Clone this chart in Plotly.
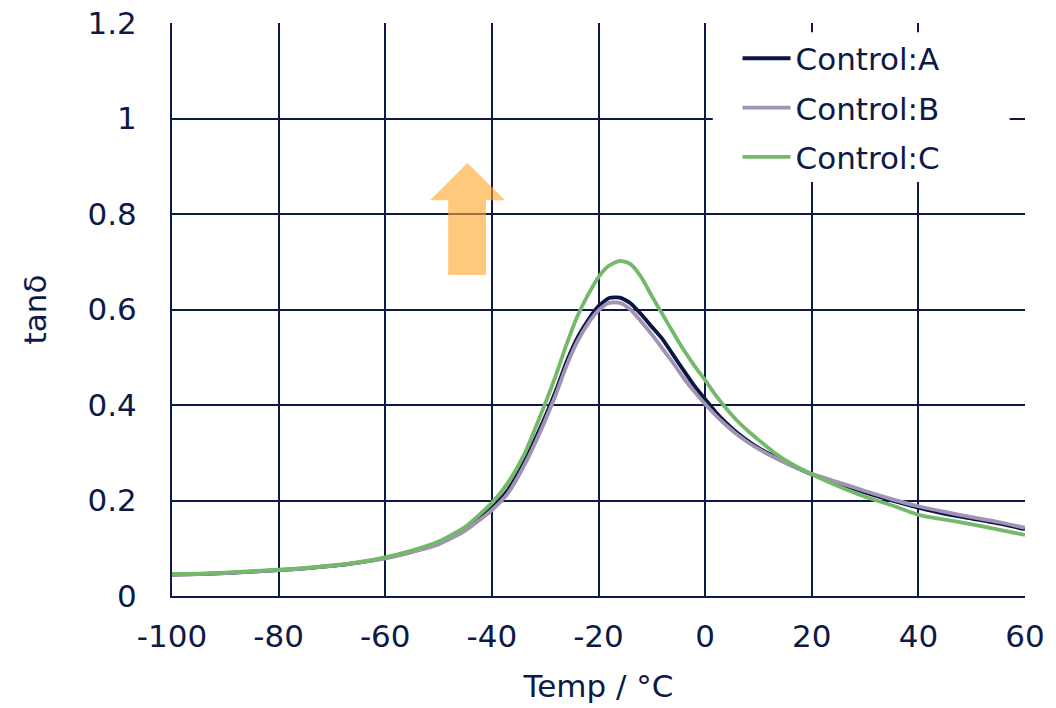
import plotly.graph_objects as go

temp = [-100, -95, -90, -85, -80, -75, -70, -65, -60, -55, -50, -45, -40, -37, -34, -31,
        -28, -26, -24, -22, -20, -18, -16, -14, -12, -10, -8, -6, -4, -2, 0, 2, 4, 6, 8,
        10, 13, 16, 20, 25, 30, 35, 40, 45, 50, 55, 60]

control_a = [0.045, 0.046, 0.048, 0.051, 0.054, 0.058, 0.063, 0.070, 0.080, 0.093, 0.110,
             0.140, 0.185, 0.222, 0.280, 0.350, 0.430, 0.490, 0.540, 0.577, 0.607, 0.624,
             0.625, 0.613, 0.590, 0.564, 0.538, 0.505, 0.472, 0.440, 0.412, 0.385, 0.362,
             0.342, 0.325, 0.310, 0.292, 0.275, 0.255, 0.235, 0.217, 0.200, 0.185, 0.172,
             0.162, 0.152, 0.140]

control_b = [0.045, 0.046, 0.048, 0.051, 0.054, 0.058, 0.063, 0.070, 0.079, 0.092, 0.108,
             0.137, 0.180, 0.215, 0.272, 0.342, 0.422, 0.482, 0.532, 0.570, 0.598, 0.614,
             0.614, 0.600, 0.575, 0.548, 0.518, 0.488, 0.456, 0.428, 0.402, 0.378, 0.357,
             0.338, 0.322, 0.308, 0.290, 0.274, 0.256, 0.238, 0.220, 0.203, 0.188, 0.176,
             0.165, 0.155, 0.143]

control_c = [0.046, 0.047, 0.049, 0.052, 0.055, 0.059, 0.064, 0.071, 0.081, 0.095, 0.114,
             0.145, 0.195, 0.237, 0.295, 0.375, 0.462, 0.527, 0.585, 0.630, 0.668, 0.692,
             0.702, 0.695, 0.668, 0.628, 0.590, 0.552, 0.515, 0.482, 0.452, 0.420, 0.392,
             0.367, 0.346, 0.327, 0.300, 0.278, 0.255, 0.230, 0.208, 0.190, 0.170, 0.160,
             0.150, 0.139, 0.128]

series_names = ["Control:A", "Control:B", "Control:C"]
series_colors = ["#0b1640", "#a093b5", "#74b96a"]

x_ticks = [-100, -80, -60, -40, -20, 0, 20, 40, 60]
x_tick_labels = ["-100", "-80", "-60", "-40", "-20", "0", "20", "40", "60"]
y_ticks = [0, 0.2, 0.4, 0.6, 0.8, 1.0, 1.2]
y_tick_labels = ["0", "0.2", "0.4", "0.6", "0.8", "1", "1.2"]

navy = "#0d1a47"
font_family = "'DejaVu Sans', sans-serif"

fig = go.Figure()
for name, vals, col in zip(series_names, [control_a, control_b, control_c], series_colors):
    fig.add_trace(go.Scatter(
        x=temp, y=vals, mode="lines", name=name, legendgroup=name,
        line=dict(color=col, width=3.8, shape="spline", smoothing=0.6),
    ))

# white panel behind the legend (hides gridlines; curves never reach this area)
fig.add_shape(
    type="rect", xref="paper", yref="paper",
    x0=0.634, x1=0.982, y0=0.7225, y1=0.984,
    fillcolor="white", line=dict(width=0), layer="above",
)

# Up arrow (annotation shape)
fig.add_shape(
    type="path", xref="x", yref="y",
    path="M -48.2,0.672 L -41.1,0.672 L -41.1,0.829 L -37.5,0.829 L -44.6,0.907 "
         "L -51.6,0.829 L -48.2,0.829 Z",
    fillcolor="rgba(255,168,45,0.62)", line=dict(width=0), layer="above",
)

fig.update_layout(
    width=1056, height=708, autosize=False,
    margin=dict(l=172, r=31, t=23, b=112, autoexpand=False),
    paper_bgcolor="white", plot_bgcolor="white",
    font=dict(family=font_family, size=31, color=navy),
    showlegend=True,
    legend=dict(
        x=0.663, y=0.985, xanchor="left", yanchor="top",
        bgcolor="rgba(0,0,0,0)", borderwidth=0,
        font=dict(size=31, color=navy),
        tracegroupgap=6, itemwidth=48,
    ),
    xaxis=dict(
        range=[-100, 60], tickvals=x_ticks, ticktext=x_tick_labels,
        showgrid=True, gridcolor=navy, gridwidth=2, automargin=False,
        zeroline=False, showline=True, linecolor=navy, linewidth=2,
        ticks="", ticklabelstandoff=12,
        title=dict(text="Temp / °C", standoff=22, font=dict(size=31)),
    ),
    yaxis=dict(
        range=[0, 1.2], tickvals=y_ticks, ticktext=y_tick_labels, showgrid=True,
        gridcolor=navy, gridwidth=2, zeroline=False, showline=True, linecolor=navy,
        linewidth=2, ticks="", ticklabelstandoff=27, automargin=False,
        title=dict(text="tanδ", standoff=32, font=dict(size=31)),
    ),
)

fig.write_html("out.html")
